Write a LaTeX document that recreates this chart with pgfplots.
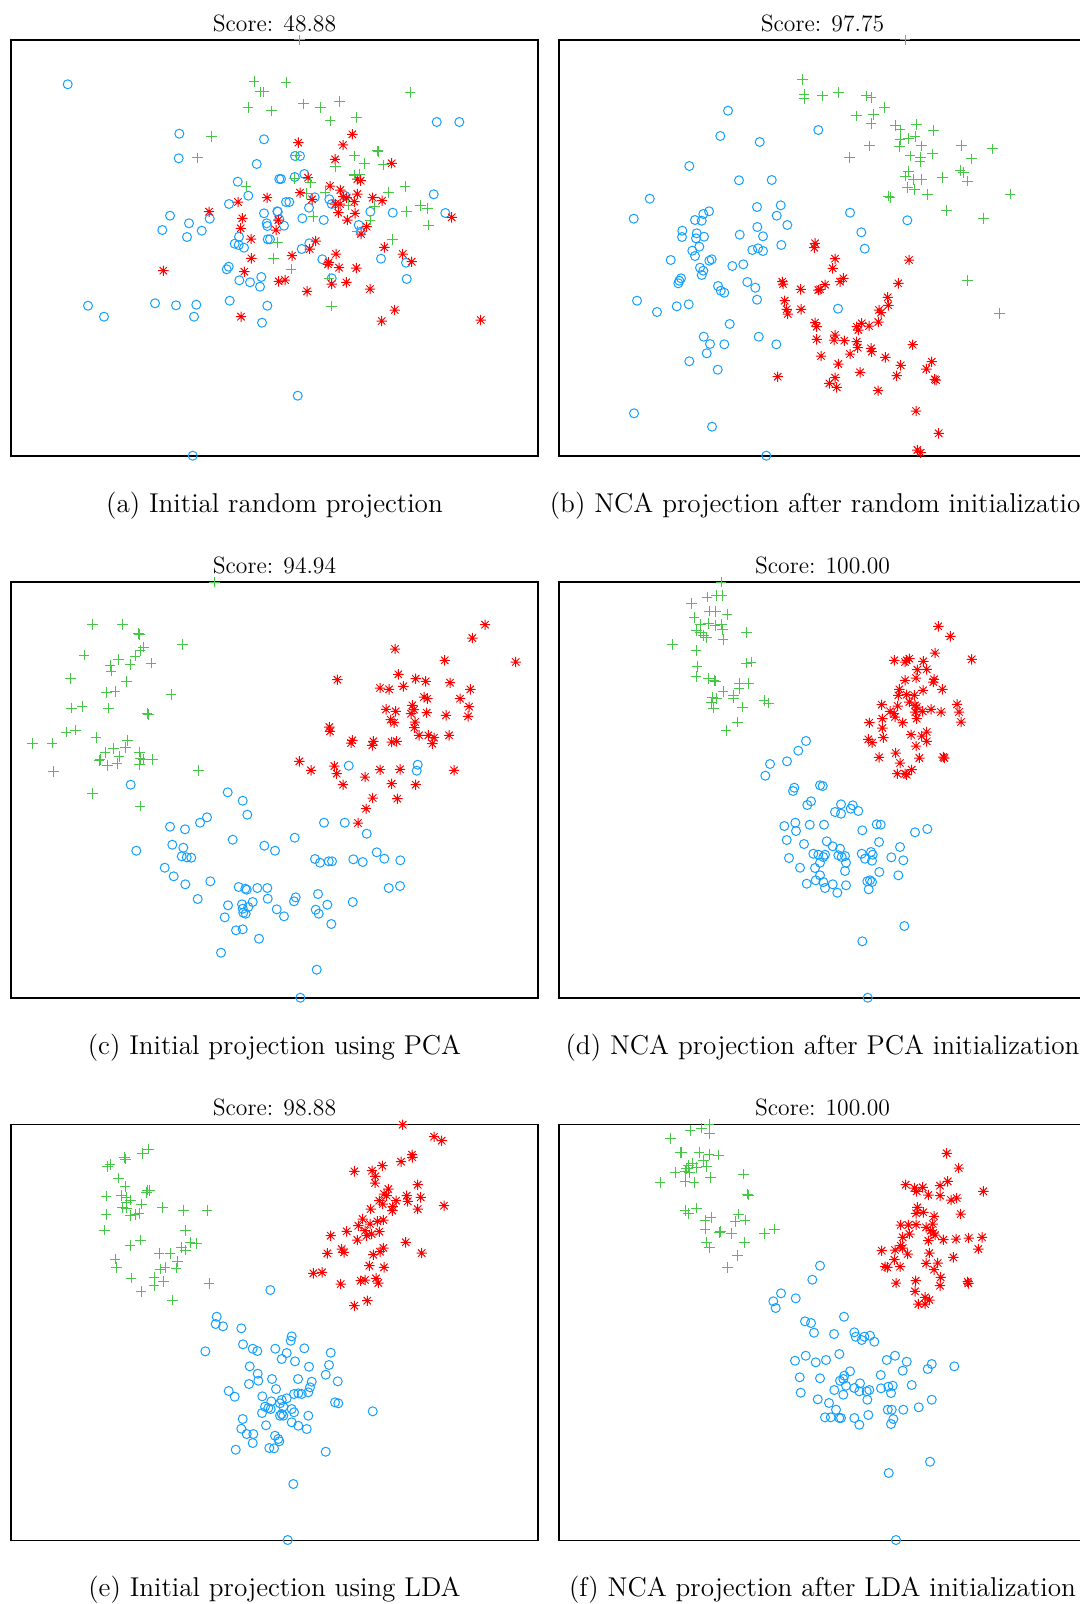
\documentclass[border=0pt]{standalone}
\usepackage{pgfplots}
\pgfplotsset{compat=1.18}
\definecolor{cb}{RGB}{20,160,255}
\definecolor{cg}{RGB}{70,200,70}
\definecolor{cr}{RGB}{255,0,0}
\pgfdeclareplotmark{ast8}{%
 \pgfpathmoveto{\pgfqpoint{-\pgfplotmarksize}{0pt}}\pgfpathlineto{\pgfqpoint{\pgfplotmarksize}{0pt}}%
 \pgfpathmoveto{\pgfqpoint{0pt}{-\pgfplotmarksize}}\pgfpathlineto{\pgfqpoint{0pt}{\pgfplotmarksize}}%
 \pgfpathmoveto{\pgfqpoint{-0.7071\pgfplotmarksize}{-0.7071\pgfplotmarksize}}\pgfpathlineto{\pgfqpoint{0.7071\pgfplotmarksize}{0.7071\pgfplotmarksize}}%
 \pgfpathmoveto{\pgfqpoint{-0.7071\pgfplotmarksize}{0.7071\pgfplotmarksize}}\pgfpathlineto{\pgfqpoint{0.7071\pgfplotmarksize}{-0.7071\pgfplotmarksize}}%
 \pgfusepathqstroke}
\pgfplotsset{
 nca/.style={scale only axis, width=263.5pt, height=208pt, y dir=reverse,
   xtick=\empty, ytick=\empty, clip=false, anchor=north west,
   axis line style={line width=0.6pt}},
 pb/.style={only marks, mark=o, mark size=2.25pt, color=cb, line width=0.5pt},
 pg/.style={only marks, mark=+, mark size=2.7pt, color=cg, line width=0.5pt},
 pr/.style={only marks, mark=ast8, mark size=2.6pt, color=cr, line width=0.5pt},
}
\newcommand{\ttl}{\fontsize{11.8}{14}\selectfont}
\newcommand{\cpt}{\fontsize{13.6}{16}\selectfont}
\begin{document}
\begin{tikzpicture}
\useasboundingbox (0,0) rectangle (540pt,-802pt);
\clip (0,0) rectangle (540pt,-802pt);
% ---------------- (a)
\begin{axis}[nca, at={(5.5pt,-20pt)}, xmin=11, xmax=538, ymin=40, ymax=456]
\addplot[pb] table {
x y
67.7 84.3
179.3 133.7
264 139.3
178.7 158.3
256.7 164
279.3 179
237.7 181.7
248.3 195.7
229 204
264 213.3
277.3 211.3
170 215.7
189 223.3
209.7 218.7
266.7 223.3
267.3 226
162.3 230
201.7 230.7
187 237
239 236.7
267.7 239.3
234.7 243.7
238.7 245
244 247.7
228.7 266.7
226.7 269.3
261.3 277
239.3 280.3
250 282.3
260 286.7
88 305.7
104 316.7
155 303.3
176 305.3
196.3 304.7
194 316.7
229.7 300.7
267.3 305.7
262 322.7
192.7 455.7
436.7 122
459.3 122
295 156
300 156
281 179
294.7 177
304.3 174
314.7 197.3
309 207.7
286 202
289.3 202
277.7 211.7
302.3 218.3
323.7 220
329.3 199.3
331.7 204
345.3 196
370.3 211.7
392.7 212.7
433.7 194.3
445.3 213
279.3 219.3
284 225.7
358.7 225
360.7 231.7
270 239.3
309.3 243.3
301.7 249
322.3 259.3
381 258.7
406 262.7
406.7 279
331.7 278.3
297.7 395.7
};
\addplot[pr] table {
x y
267 197.7
238 202
209 211.7
242.3 218.3
240.7 228.3
276 230
251 239
251.3 258.3
163.3 270.7
244.3 271.7
278.7 281.3
241 316.7
352.3 134.3
298.3 142.7
343 145
335 159.3
391.7 163.3
308 177.7
357.3 179
360.7 180.7
330 186
300 192.7
340.3 190
357.3 194
312 199.3
343.3 196.7
346.7 197.7
372.7 197.7
382 200.7
354.3 201.7
335.3 204
340 204
338.3 212.7
355 213.3
451.7 217.3
347.3 220
278.3 220
366.7 226.7
361 234
315.7 241
309.7 249
292 255.7
336 254
384.3 247.3
402.7 254
411.7 261.7
328 264.3
328.7 262.3
339 267.7
356.3 268
285 280
331.7 284
346.3 282.3
370 289
307 291.3
394.7 310
381.7 321
480.7 320
};
\addplot[pg] table {
x y
254 81.3
260 92
263.3 92
248 107.7
271.7 111
211.3 136.3
197.3 158
246 186.7
277.7 242.3
273.3 258.7
299.3 40
286 82.3
410 92.3
303.3 104
320.3 107.7
339.3 101.7
330 121
356.7 117.7
377.3 151
378 151.7
354.3 156
364.3 163.3
383.7 165
335.3 166.7
296.7 156
354.3 175
359.7 174.3
294.3 178.3
310.7 182.7
405 186.7
388.3 192.3
325 192
306.7 193.3
420.7 205.7
427.7 208.3
406.7 211.7
428.3 225
374.3 206.7
348.3 205
313 216.7
370 220
357.7 231.7
392.3 239.3
291 269
329 278.3
331.7 306
};
\end{axis}
% ---------------- (b)
\begin{axis}[nca, at={(279.5pt,-20pt)}, xmin=559, xmax=1086, ymin=40, ymax=456]
\addplot[pb] table {
x y
728 110.7
720.3 136
759.7 142
818.3 130
689.3 166
739 180.3
771.7 180
649.7 198.7
633.7 218.7
757 207
780.7 205.3
776.7 215.7
709 211.3
703.3 214
695 220
701.7 220.7
787.3 225
682.3 230.7
682 237
696.7 233.3
704 236.7
696 238.3
739.7 234.7
757.3 227
763 236.3
781.3 245
699.3 246.7
692.3 250.7
695 256
752.3 250
758 248.3
763 251
670.7 260
709.3 260.7
711.7 259.3
732.3 266
743.3 264.3
700 267.7
703.3 270.7
701.7 275
681 278.3
679.3 280.7
678.3 283.3
718 286
720.7 290.7
724.3 292.7
747.3 282
755.3 287.7
757 299.7
637 300.7
657 312
676.7 306.3
688.7 304.3
729.7 324
703.7 336.7
710 344
724.3 344.3
758.7 336.7
776.3 344.3
706.7 353.3
689.3 361.3
717.7 369.7
634 413.3
712 426.7
766.3 455.7
850 212.7
907.3 220.3
861.3 232.3
864.7 248.7
838 308.7
};
\addplot[pr] table {
x y
815 243.3
814.3 247.7
782.3 281.7
783 284
800.7 289.3
818.3 290
784.7 300.7
786.7 309.3
787.7 314
801 309.3
815 322.7
816.7 326.7
816.7 339.3
777.7 376.7
835 258.7
832.7 268.3
909 260
825 284.7
820 289.3
840 281.7
843.3 278.3
898.3 283.3
887.7 297.3
888.3 305.3
879 310
881 312.7
856.7 326.7
858.3 330
861.7 323.3
869 326
878.3 322
835 335
834 340
844.3 340.7
856.7 341.7
857.7 347.7
871 348.3
871.7 351.7
912.7 344.7
821 356
850 354
885.3 357.3
838.3 364
860 372.3
900.7 365.3
896.7 375.7
931.7 361.7
926.3 369
934.7 379.3
936 380
835 377.7
829.3 383.3
836.7 387.3
878 390.7
916 411
938.7 433.3
917.3 450
920.7 452.7
};
\addplot[pg] table {
x y
802.3 79.7
804 94.3
804 98.3
822.7 96
905 40
838.3 92.7
866.7 96
871 97.7
884.3 107.7
856.7 116
873.3 114.3
871 123.3
895 125.7
900 130
916.7 124.3
933.3 130.7
900 140
908.3 138.3
915 136.7
899.3 146.7
921.7 146
869.3 146
961.7 145.7
992.3 149
849.3 157.7
910 156
920.7 157.7
920 161.7
932.7 154
971.7 159
905.3 176
908.7 171.7
913.3 179.3
921.7 179.3
942.3 177.3
960 170.7
963.3 172.3
967.3 181
907.7 187.3
914.3 189.3
927.3 194.3
888.3 196
890 197.3
1010 194
946.7 210.3
983.7 218.3
967.3 280.7
999.3 313.7
};
\end{axis}
% ---------------- (c)
\begin{axis}[nca, at={(5.5pt,-291pt)}, xmin=11, xmax=538, ymin=582, ymax=998]
\addplot[pb] table {
x y
130.7 784.7
227.7 792.3
242.7 800.7
247.3 814.7
207 817.3
200 822.7
170 826.7
185 829.3
232.7 839.7
172.3 844.7
183.3 847.7
136.3 850.7
181.7 856.3
186.7 857.3
191.3 857.7
264.3 845.7
275 850.7
164.7 867.7
173.7 876.3
185.3 884.3
210.3 881.3
238.7 887
245.3 888.7
246.7 889.7
257.3 888
267.3 888
197.7 899
267.7 898.7
252.7 902
228 905.3
242 904.3
248.3 907
242.7 908.7
243.3 912.7
245.7 913.7
276.7 909.3
224.7 917.3
236 930.3
242.7 929.3
259 938.7
221 952.7
348.7 765.7
417.7 764.7
416.7 770.7
324 822.7
344.7 822.7
366.7 833.7
294.7 837.7
315 859
320 862.7
328.7 861.3
332 861.3
353.3 859.3
362.7 862
376.7 852.3
384.3 858.7
400.3 860.3
388.7 888
400 886
295.7 897.3
294 901.3
318 894
327.3 904.7
352.7 902
284 916.3
315.7 909.7
318.7 913.7
331.3 924
316.7 969.7
300.3 997.7
};
\addplot[pr] table {
x y
485 624.7
472.3 638
395 649
515.7 662
444.7 660.3
337.3 679.7
398.3 674.3
415.7 678.7
425.7 681.3
450 682.7
380 688
389 689.3
403.3 686.3
470.3 689.3
424 697
427.3 698.7
460 698.7
469 706.7
386 709.3
395.7 711.3
412.3 705.3
414 709.7
411 713.7
426.7 712.7
446 715.3
468 716.3
390.7 719.7
394 722.7
415 722
414.3 727.7
329.3 727
330 731.3
419 735.3
428.3 735.3
434 737.7
432.3 743.7
449 735.3
352.3 740.3
351 743
373.3 741.3
372.3 745.3
391.7 742
396.7 741.3
299.3 761.3
311 770.3
334.3 766
336.7 773.7
380 769.7
400 769.3
454 770.3
365 777
343 784.7
391.7 783.7
415.7 784.7
372.7 798
397.3 798.7
366 808.7
358 823
};
\addplot[pg] table {
x y
214.3 582
92.7 624.3
122.7 624.3
138.3 633.7
139.3 634.7
182.7 644.3
143.3 647
140 650.3
135 656
84 655
118.3 659.7
110 665.3
111 671
130 664.7
151 663
70.3 678.7
126.7 681.3
106.7 692.7
115 691.3
171 694.3
71.7 708
82 706.3
108.3 708
147 713.7
148.7 714.7
66 732
75.3 730
96 737.7
32.3 743.7
52 743
127.3 740.3
105 752.7
113.3 748.7
125.3 747.7
119 756.3
99 760.7
100 759.7
107.7 765.3
117 763.7
139.3 752
140 758.7
139.3 764.3
143.3 759.7
152.7 759.3
53.3 771.3
198.7 770.7
92.7 793.7
140 806
};
\end{axis}
% ---------------- (d)
\begin{axis}[nca, at={(279.5pt,-291pt)}, xmin=559, xmax=1086, ymin=582, ymax=998]
\addplot[pb] table {
x y
806 741
798.3 750.7
787 761.3
770 764
765.3 775.7
794.3 787.7
793 791
811 801.3
807.3 805
820 785.3
784.3 826
795.3 822.7
796 831
809.7 824.7
786.7 840
804 844
789 858
800 867.7
813.3 853.7
818.3 854.7
815 868
806.7 883.7
815.7 880.3
822.7 786
841 804.3
835 812
841 813.7
852.7 805.3
850.7 808.7
858.3 811
824 824.7
862.3 830.3
876.7 824.3
880.7 824.7
915 832.3
927.3 829
879 842
826.7 841.3
832.7 846.3
840 848.7
825 854.7
823.3 857
838.3 855.3
841.7 857
845 856
861.7 853.7
865 858.7
871 852
872.7 854.7
872 860.7
900 847
891.3 857.3
903.3 860.3
820 862.7
846 862.7
845 871
879.3 872
898.3 875.3
820 875.3
823.3 882
832.7 884.3
846 885.3
825 888
837.3 892.7
867.3 881.3
870 880.3
872 882
868.7 889.3
904.3 926
862.3 941.3
867.7 997.7
};
\addplot[pr] table {
x y
938.3 626.3
950.3 636.3
935 653
971.7 659.3
894.3 660.3
905 662
906.7 660.3
909.3 658.7
923.3 661.3
917.3 669.7
926.7 669.3
905 680.3
916 678
934 679.3
933.3 682
899.3 689.3
898.3 695.3
906.7 694.7
923 690.3
942.3 689.3
914.3 695.3
909.3 702
915 705.3
916.7 707
881.7 704.7
897.7 706
890 711.3
894 713.7
895 717
915.3 712
922.7 711.3
916.7 718.7
931 709.3
941 712
957 704.3
959 712
961 722
882.3 718.7
882.3 728
883.3 737.7
869.3 722.7
902.7 722.7
911 734.7
921.7 736
926.7 732
926.7 741.3
868.3 739.3
872 742.7
916 746
879 757.3
895.7 753
919.3 758
943.3 757
944.3 758
900 763
897.3 773.7
905 773.7
906.7 774.7
911.7 769.7
};
\addplot[pg] table {
x y
721 582
691.7 603.7
707 597
716.7 595.3
722 595.3
709.3 611
715.7 611.3
727 614.3
694 617.7
700.7 624.7
708.3 623.7
715 625.3
721.3 624.3
696.7 630.3
700.7 632.7
706.7 637.7
703.3 635.3
722.3 629.7
723 639.7
746.3 632.3
672.7 644.7
696 650.7
746.7 663
751 662
697 666.3
696 676.3
708.3 678.7
714 680.3
715.7 681
739.3 683
748.3 683.7
739 688.7
723 691.3
733.3 695.3
733.3 698
712.3 697
716.7 698.7
711 702.7
713.3 708
764 700.3
768.3 703
742.3 707
737.3 722
726 730.3
};
\end{axis}
% ---------------- (e)
\begin{axis}[nca, at={(5.5pt,-562.25pt)}, xmin=11, xmax=538, ymin=1124.5, ymax=1540.5]
\addplot[pb] table {
x y
270.3 1290
216.7 1316.7
215.7 1324
223 1326.3
241.3 1328.3
205.3 1351.3
243 1344.3
252.7 1348.7
257.3 1351
275.3 1348.7
281.7 1359
249.7 1366.3
257.7 1373.7
258.3 1380.7
249 1384
272 1379
276 1389
228.7 1391
234.7 1396.7
262.3 1396.3
271.3 1401.3
265 1406.7
268.3 1408
270.7 1409
262 1413
280 1403.3
280 1415.7
242.7 1419
241.3 1428.7
266 1425.3
246.7 1434
253.3 1434
252.7 1443
275 1435.7
278.3 1439
235.7 1449.7
269.3 1448
274 1448.3
291.7 1336.3
290.7 1340.7
304.3 1348.3
286.7 1353
330.7 1352.7
295 1361.3
309 1366.7
329 1365
325.7 1374.7
298 1379
337.7 1381.3
311.7 1381.7
310 1387.3
308.3 1392.3
294 1394
298.3 1393.3
301.7 1394
286.7 1398.3
281.7 1400
335 1402.3
338.3 1403.3
283.3 1406.7
291.7 1409
294 1412.3
281.7 1414
283.3 1415.7
308.3 1415.7
372.7 1411.3
291.7 1422.3
298.3 1425.7
306.7 1429
279.3 1441.3
325.7 1451.7
293.3 1484
287.7 1540
};
\addplot[pr] table {
x y
402.7 1124.7
434 1136.7
441.7 1140.7
412 1154.7
412.3 1157.3
401 1161.7
382.3 1165.7
354.3 1171.3
372 1170.7
375.3 1176.3
375 1183
417.7 1184.7
388.3 1189
384 1194
386.7 1195.7
379.3 1200.7
382.7 1204
406.7 1195.7
407.7 1201.3
420.7 1197.3
396 1200.7
392.7 1206.7
392.3 1210.7
417.7 1209
444 1205.7
370.7 1209
362.7 1219
358.3 1225.7
370 1224
377.3 1221.3
383.3 1220
365 1230.7
366.7 1235.7
371.7 1234
379.3 1231.7
346.7 1231.3
330.7 1235.7
357.3 1240
405.7 1242.3
341.7 1249
344 1252.3
327.3 1253.3
383.3 1248
380 1251.7
373.3 1254.7
421.7 1253
369.3 1265.7
384 1267.3
313.3 1273.3
322 1272.3
360.7 1280.7
365 1280
376 1278.3
378.3 1283
340.7 1284
354.3 1305.7
367.3 1300.7
};
\addplot[pg] table {
x y
148.3 1149
142.7 1153.3
124.3 1157.3
125.7 1159
110 1164.7
107.3 1166.7
118.3 1178
125 1186.7
147.7 1190
149.3 1190.7
146.7 1192.3
106 1196
121.7 1195.7
126 1197.3
130.7 1200
126.7 1202.3
141.7 1204
122.7 1207.3
126.7 1208
162.7 1207.3
183.3 1210.7
207 1210.7
106 1214.7
130 1215.7
135 1214.7
139 1213.3
104.3 1230
185.7 1230.7
140.7 1240
130 1245.7
190 1242.3
196.7 1243.3
181.7 1247.3
185.7 1250
159 1253.3
170 1253.3
115 1259
116.7 1267.3
177.7 1261.7
176 1268
160 1269
165 1267.3
131 1278
154 1277.3
163.3 1281.3
154 1285.7
209 1283.3
141 1291.3
172.7 1300
};
\end{axis}
% ---------------- (f)
\begin{axis}[nca, at={(279.5pt,-562.25pt)}, xmin=559, xmax=1086, ymin=1124.5, ymax=1540.5]
\addplot[pb] table {
x y
820 1265.7
812.3 1279.7
781 1293.3
795.7 1298.3
773.3 1301.3
775.7 1308
805 1321.3
811 1323
814 1332.7
795 1360.7
805.7 1355.7
815.7 1362.3
799.7 1377.3
820 1378.3
800.7 1392.7
817.7 1399.3
844 1316.7
834 1334
854.3 1332.3
855.7 1336.7
861.7 1340
864.3 1336.7
870 1335.7
874.3 1341.7
839.3 1354
826 1360
886.7 1360
895 1355.7
906.7 1361.7
902.7 1370.7
927.7 1369
931.7 1364
954.3 1366.3
850 1371.3
844.3 1375.7
843.3 1379
840 1380.7
846 1385.7
880.7 1375
860 1383.3
854.3 1388
859.3 1391.3
866.7 1391.3
869.3 1390
867.3 1399.7
843.3 1394.7
834.3 1390
881 1388.3
888.3 1386.7
892.7 1385.7
891 1393
911.7 1385
829 1403
931.7 1399.7
836 1409.7
825 1417.3
830.7 1417.3
839.3 1418
841 1418
854.3 1418
859.3 1424.7
868.3 1415
887.7 1409.7
891.7 1409.7
893.3 1419
891 1424
903.3 1409.7
918.7 1407.3
930 1461.7
888.7 1473
896 1540
};
\addplot[pr] table {
x y
946.7 1153.3
958.7 1168
905.7 1184.7
914.3 1188
916.7 1191.3
922.7 1187.3
940 1185.7
947.7 1181.3
983.3 1191.3
928.3 1195
940 1195.7
951 1200
956.7 1198
917.3 1207.3
916 1213.3
923.3 1212.3
960.7 1214
934 1216.3
900.7 1225
908.3 1225
916 1224.7
926 1227.3
932.7 1224
930.7 1230.7
933.3 1233
935 1235
902.7 1237.3
909.3 1234
928.3 1240.7
943.3 1239.7
956 1239
968.7 1238
982 1237.3
900.7 1245.7
902.7 1248
895 1250
881.7 1250.7
907.7 1254
929.3 1253
978.3 1249
894.3 1259.7
953.3 1257.3
885 1266.7
887.3 1267.3
900 1266.7
926 1263.3
937.7 1263
934 1269.7
940.7 1277.3
940 1285.7
915.7 1280.7
896 1283
967.7 1281.7
968.3 1283.3
915 1291.3
925 1297.3
929.3 1300
918.3 1304
925 1304
};
\addplot[pg] table {
x y
709 1124
701.7 1128
709.3 1133.3
690 1130.7
670.7 1138.3
680 1152.3
681.7 1152.3
699 1152.3
709 1154.7
718.3 1155
703.3 1160.7
692.7 1163.3
688.3 1165.7
686.7 1168.3
696.7 1167.3
706.7 1166.7
675 1172.3
685 1171.3
689.3 1172.3
743.3 1174
710.7 1177.3
660 1182.3
685 1181.7
694 1182.3
747.3 1194
748.3 1195
685 1210.7
688.3 1213.3
696.7 1208
738.3 1214
745 1220
735 1221.3
705 1220
711 1217.3
705 1229
720.7 1231.3
719.3 1232.3
731.7 1233.3
764.3 1233.3
774.3 1229
706.7 1242.3
709.3 1247.3
744.3 1242.3
737.3 1255.7
727.3 1267.3
};
\end{axis}
% ---------------- titles and captions
\node[font=\ttl, anchor=base] at (137.25pt,-15.75pt) {Score: 48.88};
\node[font=\ttl, anchor=base] at (411.25pt,-15.75pt) {Score: 97.75};
\node[font=\ttl, anchor=base] at (137.25pt,-286.8pt) {Score: 94.94};
\node[font=\ttl, anchor=base] at (411.25pt,-286.8pt) {Score: 100.00};
\node[font=\ttl, anchor=base] at (137.25pt,-557.8pt) {Score: 98.88};
\node[font=\ttl, anchor=base] at (411.25pt,-557.8pt) {Score: 100.00};
\node[font=\cpt, anchor=base] at (137.25pt,-256pt) {(a) Initial random projection};
\node[font=\cpt, anchor=base] at (411.25pt,-256pt) {(b) NCA projection after random initialization};
\node[font=\cpt, anchor=base] at (137.25pt,-527.25pt) {(c) Initial projection using PCA};
\node[font=\cpt, anchor=base] at (411.25pt,-527.25pt) {(d) NCA projection after PCA initialization};
\node[font=\cpt, anchor=base] at (137.25pt,-798.25pt) {(e) Initial projection using LDA};
\node[font=\cpt, anchor=base] at (411.25pt,-798.25pt) {(f) NCA projection after LDA initialization};
\end{tikzpicture}
\end{document}
